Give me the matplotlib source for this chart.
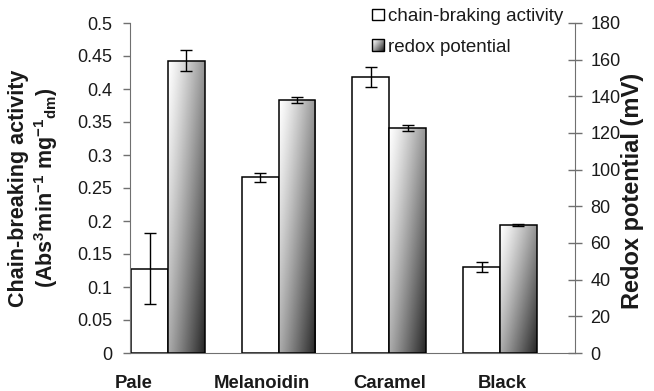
import numpy as np
import matplotlib
matplotlib.use("Agg")
import matplotlib.pyplot as plt
from matplotlib.patches import Rectangle
from matplotlib.legend_handler import HandlerBase

plt.rcParams['font.family'] = ['Liberation Sans', 'DejaVu Sans']
plt.rcParams['mathtext.fontset'] = 'custom'
plt.rcParams['mathtext.rm'] = 'Liberation Sans'
plt.rcParams['mathtext.bf'] = 'Liberation Sans:bold'
plt.rcParams['mathtext.default'] = 'bf'

# ---- data ----
categories = ["Pale", "Melanoidin", "Caramel", "Black"]
label_pos = [-0.307, 0.849, 2.006, 3.018]          # where the category names sit
chain_activity = [0.128, 0.266, 0.418, 0.130]
chain_err = [0.054, 0.007, 0.015, 0.008]
redox_potential = [159.5, 138.0, 122.7, 69.8]
redox_err = [5.7, 1.8, 1.5, 0.7]
left_ticks = [0, 0.05, 0.1, 0.15, 0.2, 0.25, 0.3, 0.35, 0.4, 0.45, 0.5]
left_ticklabels = ["0", "0.05", "0.1", "0.15", "0.2", "0.25", "0.3", "0.35", "0.4", "0.45", "0.5"]
right_ticks = [0, 20, 40, 60, 80, 100, 120, 140, 160, 180]

SPINE = "#707070"
TXT = "#1a1a1a"


def diag_gradient(nx=60, ny=200):
    """Grey ramp running from white (top-left) to near black (bottom-right)."""
    u = np.linspace(0, 1, nx)[None, :]
    v = np.linspace(0, 1, ny)[:, None]
    t = 0.55 * u + 0.45 * v
    return 1 - 0.85 * t ** 1.2


class GradientHandler(HandlerBase):
    def create_artists(self, legend, orig_handle, xdescent, ydescent,
                       width, height, fontsize, trans):
        side = min(width, height)
        x0, y0 = -xdescent, -ydescent + (height - side) / 2
        n = 12
        g = diag_gradient(n, n)
        arts = []
        for i in range(n):
            for j in range(n):
                c = g[i, j]
                r = Rectangle((x0 + j * side / n, y0 + side - (i + 1) * side / n),
                              side / n, side / n, facecolor=(c, c, c),
                              edgecolor="none", transform=trans)
                arts.append(r)
        arts.append(Rectangle((x0, y0), side, side, facecolor="none",
                              edgecolor="black", lw=1.0, transform=trans))
        return arts


class SquareHandler(HandlerBase):
    def create_artists(self, legend, orig_handle, xdescent, ydescent,
                       width, height, fontsize, trans):
        side = min(width, height)
        x0, y0 = -xdescent, -ydescent + (height - side) / 2
        return [Rectangle((x0, y0), side, side, facecolor="white",
                          edgecolor="black", lw=1.0, transform=trans)]


fig = plt.figure(figsize=(6.54, 3.91), dpi=100)
ax = fig.add_axes([130 / 654, 1 - 353 / 391, 445 / 654, 330 / 391])
ax2 = ax.twinx()

x = np.arange(len(categories))
w = 0.333

# chain-breaking activity (open bars, left axis)
bars1 = ax.bar(x - w / 2, chain_activity, width=w, facecolor="white",
               edgecolor="black", lw=1.1, zorder=2)
ax.errorbar(x - w / 2, chain_activity, yerr=chain_err, fmt="none",
            ecolor="black", elinewidth=1.0, capsize=4, capthick=1.0, zorder=3)

# redox potential (shaded bars, right axis)
bars2 = ax2.bar(x + w / 2, redox_potential, width=w, facecolor="none",
                edgecolor="black", lw=1.1, zorder=3)
grad = diag_gradient()
for b in bars2:
    x0, y0 = b.get_x(), b.get_y()
    im = ax2.imshow(grad, cmap="gray", vmin=0, vmax=1, aspect="auto",
                    extent=[x0, x0 + b.get_width(), y0, y0 + b.get_height()],
                    origin="upper", zorder=2, interpolation="bilinear")
    im.set_clip_path(b)
ax2.errorbar(x + w / 2, redox_potential, yerr=redox_err, fmt="none",
             ecolor="black", elinewidth=1.0, capsize=4, capthick=1.0, zorder=4)

ax.set_xlim(-0.343, 3.678)
ax.set_ylim(0, 0.5)
ax2.set_ylim(0, 180)

# axes styling
for s in ["top", "right"]:
    ax.spines[s].set_visible(False)
for s in ["top", "left", "bottom"]:
    ax2.spines[s].set_visible(False)
ax.spines["left"].set_color(SPINE)
ax.spines["bottom"].set_color(SPINE)
ax2.spines["right"].set_color(SPINE)

ax.set_yticks(left_ticks)
ax.set_yticklabels(left_ticklabels)
ax.tick_params(axis="y", direction="out", length=5, width=1, color=SPINE,
               labelsize=13, labelcolor=TXT, pad=8)
ax2.set_yticks(right_ticks)
ax2.tick_params(axis="y", direction="inout", length=10, width=1, color=SPINE,
                labelsize=13, labelcolor=TXT, pad=6)

ax.set_xticks(label_pos)
ax.set_xticklabels(categories, fontweight="bold", fontsize=13.3)
ax.tick_params(axis="x", length=0, pad=16, labelcolor=TXT)

ax.set_ylabel("Chain-breaking activity\n"
              r"(Abs$^{3}$min$^{-1}$ mg$^{-1}$$_{dm}$)",
              fontsize=15.5, fontweight="bold", color=TXT,
              linespacing=1.15)
ax.yaxis.set_label_coords(-0.158, 0.5)
ax2.set_ylabel("Redox potential (mV)", fontsize=17, fontweight="bold",
               color=TXT)
ax2.yaxis.set_label_coords(1.104, 0.49)

h1 = Rectangle((0, 0), 1, 1)
h2 = Rectangle((0, 0), 1, 1)
leg = ax2.legend([h1, h2], ["chain-braking activity", "redox potential"],
                 handler_map={h1: SquareHandler(), h2: GradientHandler()},
                 loc="upper left", bbox_to_anchor=(372 / 654, 1 - 8 / 391),
                 bbox_transform=fig.transFigure, frameon=False, fontsize=13.5,
                 handlelength=0.62, handleheight=0.62, handletextpad=0.25,
                 labelspacing=0.72, borderpad=0, borderaxespad=0)
for t in leg.get_texts():
    t.set_color(TXT)
leg.set_zorder(10)

fig.savefig("out.png", dpi=100)
